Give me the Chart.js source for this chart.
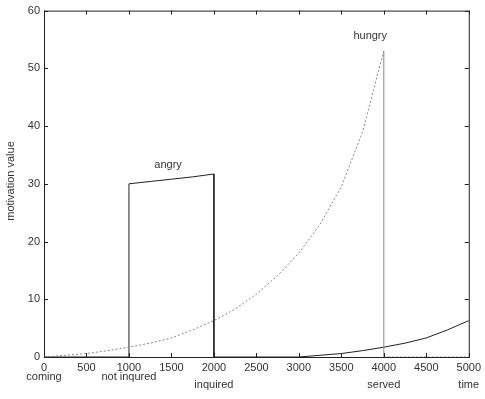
<!DOCTYPE html>
<html>
<head>
<meta charset="utf-8">
<script src="https://cdn.jsdelivr.net/npm/chart.js@4/dist/chart.umd.min.js"></script>
<style>
  html, body { margin: 0; padding: 0; background: #fff; }
  #wrap { width: 485px; height: 399px; }
</style>
</head>
<body>
<div id="wrap"><canvas id="chart" width="485" height="399"></canvas></div>
<script>
// time ticks & motivation ticks
const xTicks = [0, 500, 1000, 1500, 2000, 2500, 3000, 3500, 4000, 4500, 5000];
const yTicks = [0, 10, 20, 30, 40, 50, 60];

// hungry motivation (rises until served at 4000)
const hungryT = [0, 250, 500, 750, 1000, 1250, 1500, 1750, 2000, 2250, 2500, 2750, 3000, 3250, 3500, 3750, 4000, 4000, 5000];
const hungryV = [0, 0.3, 0.6, 1.1, 1.7, 2.4, 3.3, 4.7, 6.3, 8.3, 10.9, 14.1, 18.0, 23.0, 29.5, 39.0, 53, 0, 0];

// angry motivation (not inquired at 1000, inquired at 2000)
const angryT = [0, 1000, 1000, 1250, 1500, 1750, 2000, 2000, 3000];
const angryV = [0, 0, 30, 30.4, 30.8, 31.2, 31.7, 0, 0];

// second hungry cycle starting at 3000
const nextT = [3000, 3250, 3500, 3750, 4000, 4250, 4500, 4750, 5000];
const nextV = [0, 0.3, 0.6, 1.1, 1.7, 2.4, 3.3, 4.7, 6.3];

// event labels under the time axis
const events = [
  { t: 0, text: 'coming', row: 0 },
  { t: 1000, text: 'not inqured', row: 0 },
  { t: 2000, text: 'inquired', row: 1 },
  { t: 4000, text: 'served', row: 1 },
  { t: 5000, text: 'time', row: 1 },
];

const pts = (xs, ys) => xs.map((x, i) => ({ x, y: ys[i] }));
const FONT = '"Liberation Sans", Arial, sans-serif';

const boxPlugin = {
  id: 'box',
  afterDraw(chart) {
    const { ctx, chartArea: a, scales: { x, y } } = chart;
    ctx.save();
    ctx.strokeStyle = '#222';
    ctx.lineWidth = 1;
    ctx.strokeRect(a.left + 0.5, a.top + 0.5, a.right - a.left, a.bottom - a.top);
    // inward ticks on all four sides
    ctx.beginPath();
    xTicks.forEach(v => {
      const px = Math.round(x.getPixelForValue(v)) + 0.5;
      ctx.moveTo(px, a.bottom); ctx.lineTo(px, a.bottom - 4);
      ctx.moveTo(px, a.top); ctx.lineTo(px, a.top + 4);
    });
    yTicks.forEach(v => {
      const py = Math.round(y.getPixelForValue(v)) + 0.5;
      ctx.moveTo(a.left, py); ctx.lineTo(a.left + 4, py);
      ctx.moveTo(a.right, py); ctx.lineTo(a.right - 4, py);
    });
    ctx.stroke();

    ctx.fillStyle = '#333';
    ctx.font = '11px ' + FONT;
    ctx.textAlign = 'center';
    ctx.textBaseline = 'middle';
    events.forEach(e => {
      ctx.fillText(e.text, x.getPixelForValue(e.t), e.row ? 385 : 377);
    });
    ctx.fillText('angry', x.getPixelForValue(1460), 165);
    ctx.fillText('hungry', x.getPixelForValue(3840), 36);

    ctx.translate(11, 181);
    ctx.rotate(-Math.PI / 2);
    ctx.fillText('motivation value', 0, 0);
    ctx.restore();
  }
};

new Chart(document.getElementById('chart'), {
  type: 'line',
  data: {
    datasets: [
      {
        label: 'hungry', data: pts(hungryT, hungryV),
        borderColor: '#888', borderWidth: 1, borderDash: [2, 2],
        segment: { borderDash: c => c.p0.parsed.x === c.p1.parsed.x ? [] : [2, 2] },
      },
      { label: 'angry', data: pts(angryT, angryV), borderColor: '#222', borderWidth: 1 },
      { label: 'next', data: pts(nextT, nextV), borderColor: '#222', borderWidth: 1 },
    ],
  },
  options: {
    responsive: false,
    animation: false,
    elements: { point: { radius: 0 }, line: { tension: 0 } },
    layout: { padding: { top: 10, right: 16, left: 0, bottom: 0 } },
    plugins: { legend: { display: false }, tooltip: { enabled: false } },
    scales: {
      x: {
        type: 'linear', min: 0, max: 5000,
        afterBuildTicks: s => { s.ticks = xTicks.map(v => ({ value: v })); },
        afterFit: s => { s.height = 42; },
        grid: { display: false, drawTicks: false }, border: { display: false },
        ticks: { color: '#333', font: { family: FONT, size: 11 }, padding: 4, maxRotation: 0, autoSkip: false, callback: v => String(v) },
      },
      y: {
        min: 0, max: 60,
        afterBuildTicks: s => { s.ticks = yTicks.map(v => ({ value: v })); },
        afterFit: s => { s.width = 44; },
        grid: { display: false, drawTicks: false }, border: { display: false },
        ticks: { color: '#333', font: { family: FONT, size: 11 }, padding: 4, callback: v => String(v) },
      },
    },
  },
  plugins: [boxPlugin],
});
</script>
</body>
</html>
